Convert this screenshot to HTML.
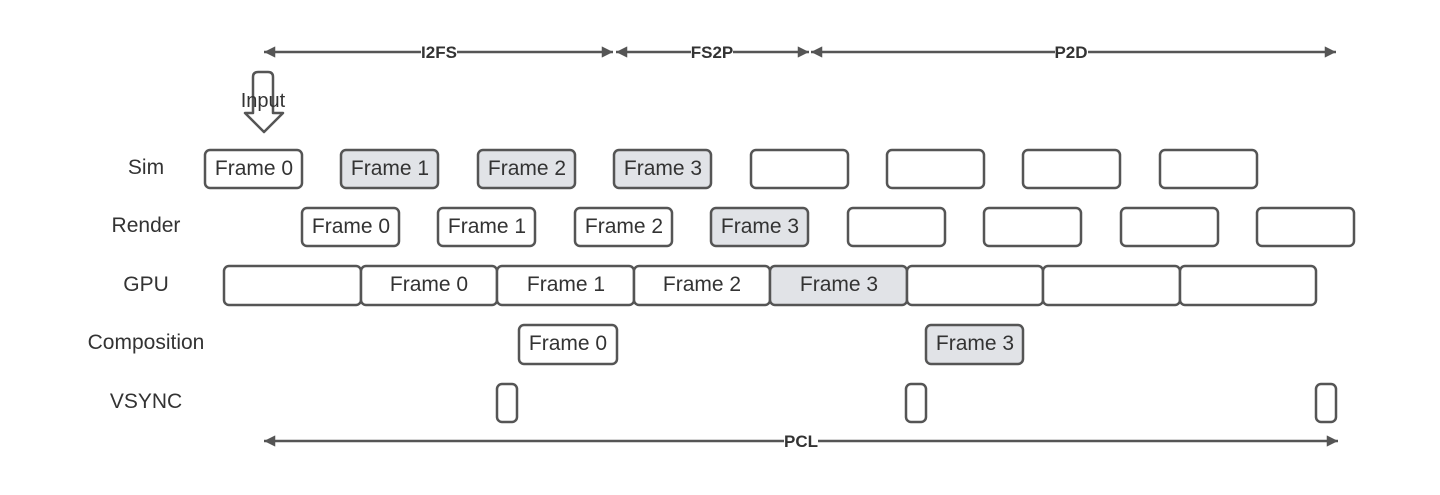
<!DOCTYPE html>
<html><head><meta charset="utf-8"><style>
html,body{margin:0;padding:0;background:#fff;}
svg{display:block;}
text{font-family:"Liberation Sans",Arial,sans-serif;fill:#333;}
</style></head><body>
<svg width="1440" height="495" viewBox="0 0 1440 495" xmlns="http://www.w3.org/2000/svg">
<defs>
<marker id="ah" viewBox="0 0 10 10" refX="10" refY="5" markerWidth="7" markerHeight="4.5" orient="auto-start-reverse" markerUnits="strokeWidth"><path d="M0,0 L10,5 L0,10 z" fill="#555"/></marker>
</defs>
<g stroke="#555" stroke-width="2.5" fill="none">
<line x1="264" y1="52" x2="613" y2="52" marker-start="url(#ah)" marker-end="url(#ah)"/>
<line x1="616" y1="52" x2="809" y2="52" marker-start="url(#ah)" marker-end="url(#ah)"/>
<line x1="811" y1="52" x2="1336" y2="52" marker-start="url(#ah)" marker-end="url(#ah)"/>
<line x1="264" y1="441" x2="1338" y2="441" marker-start="url(#ah)" marker-end="url(#ah)"/>
</g>
<g font-size="17" font-weight="bold" text-anchor="middle">
<rect x="421" y="42" width="36" height="18" fill="#fff"/><text x="439" y="58">I2FS</text>
<rect x="691" y="42" width="42" height="18" fill="#fff"/><text x="712" y="58">FS2P</text>
<rect x="1055" y="42" width="33" height="18" fill="#fff"/><text x="1071" y="58">P2D</text>
<rect x="784" y="431" width="34" height="18" fill="#fff"/><text x="801" y="447">PCL</text>
</g>
<path d="M253,113 L253,77 Q253,72 258,72 L268,72 Q273,72 273,77 L273,113 L283,113 L264,132 L245,113 Z" fill="#fff" stroke="#555" stroke-width="2.5" stroke-linejoin="round"/>
<text x="263" y="107" font-size="20" text-anchor="middle">Input</text>
<g font-size="21" text-anchor="middle">
<text x="146" y="174">Sim</text>
<text x="146" y="232">Render</text>
<text x="146" y="291">GPU</text>
<text x="146" y="349">Composition</text>
<text x="146" y="408">VSYNC</text>
</g>
<g stroke="#555" stroke-width="2.5">
<rect x="205" y="150" width="97" height="38" rx="5" fill="#fff"/>
<rect x="341" y="150" width="97" height="38" rx="5" fill="#e1e3e7"/>
<rect x="478" y="150" width="97" height="38" rx="5" fill="#e1e3e7"/>
<rect x="614" y="150" width="97" height="38" rx="5" fill="#e1e3e7"/>
<rect x="751" y="150" width="97" height="38" rx="5" fill="#fff"/>
<rect x="887" y="150" width="97" height="38" rx="5" fill="#fff"/>
<rect x="1023" y="150" width="97" height="38" rx="5" fill="#fff"/>
<rect x="1160" y="150" width="97" height="38" rx="5" fill="#fff"/>
<rect x="302" y="208" width="97" height="38" rx="5" fill="#fff"/>
<rect x="438" y="208" width="97" height="38" rx="5" fill="#fff"/>
<rect x="575" y="208" width="97" height="38" rx="5" fill="#fff"/>
<rect x="711" y="208" width="97" height="38" rx="5" fill="#e1e3e7"/>
<rect x="848" y="208" width="97" height="38" rx="5" fill="#fff"/>
<rect x="984" y="208" width="97" height="38" rx="5" fill="#fff"/>
<rect x="1121" y="208" width="97" height="38" rx="5" fill="#fff"/>
<rect x="1257" y="208" width="97" height="38" rx="5" fill="#fff"/>
<rect x="224" y="266" width="137" height="39" rx="5" fill="#fff"/>
<rect x="361" y="266" width="136" height="39" rx="5" fill="#fff"/>
<rect x="497" y="266" width="137" height="39" rx="5" fill="#fff"/>
<rect x="634" y="266" width="136" height="39" rx="5" fill="#fff"/>
<rect x="770" y="266" width="137" height="39" rx="5" fill="#e1e3e7"/>
<rect x="907" y="266" width="136" height="39" rx="5" fill="#fff"/>
<rect x="1043" y="266" width="137" height="39" rx="5" fill="#fff"/>
<rect x="1180" y="266" width="136" height="39" rx="5" fill="#fff"/>
<rect x="519" y="325" width="98" height="39" rx="5" fill="#fff"/>
<rect x="926" y="325" width="97" height="39" rx="5" fill="#e1e3e7"/>
<rect x="497" y="384" width="20" height="38" rx="5" fill="#fff"/>
<rect x="906" y="384" width="20" height="38" rx="5" fill="#fff"/>
<rect x="1316" y="384" width="20" height="38" rx="5" fill="#fff"/>
</g>
<g font-size="21" text-anchor="middle">
<text x="254" y="175">Frame 0</text>
<text x="390" y="175">Frame 1</text>
<text x="527" y="175">Frame 2</text>
<text x="663" y="175">Frame 3</text>
<text x="351" y="233">Frame 0</text>
<text x="487" y="233">Frame 1</text>
<text x="624" y="233">Frame 2</text>
<text x="760" y="233">Frame 3</text>
<text x="429" y="291">Frame 0</text>
<text x="566" y="291">Frame 1</text>
<text x="702" y="291">Frame 2</text>
<text x="839" y="291">Frame 3</text>
<text x="568" y="350">Frame 0</text>
<text x="975" y="350">Frame 3</text>
</g>
</svg>
</body></html>
